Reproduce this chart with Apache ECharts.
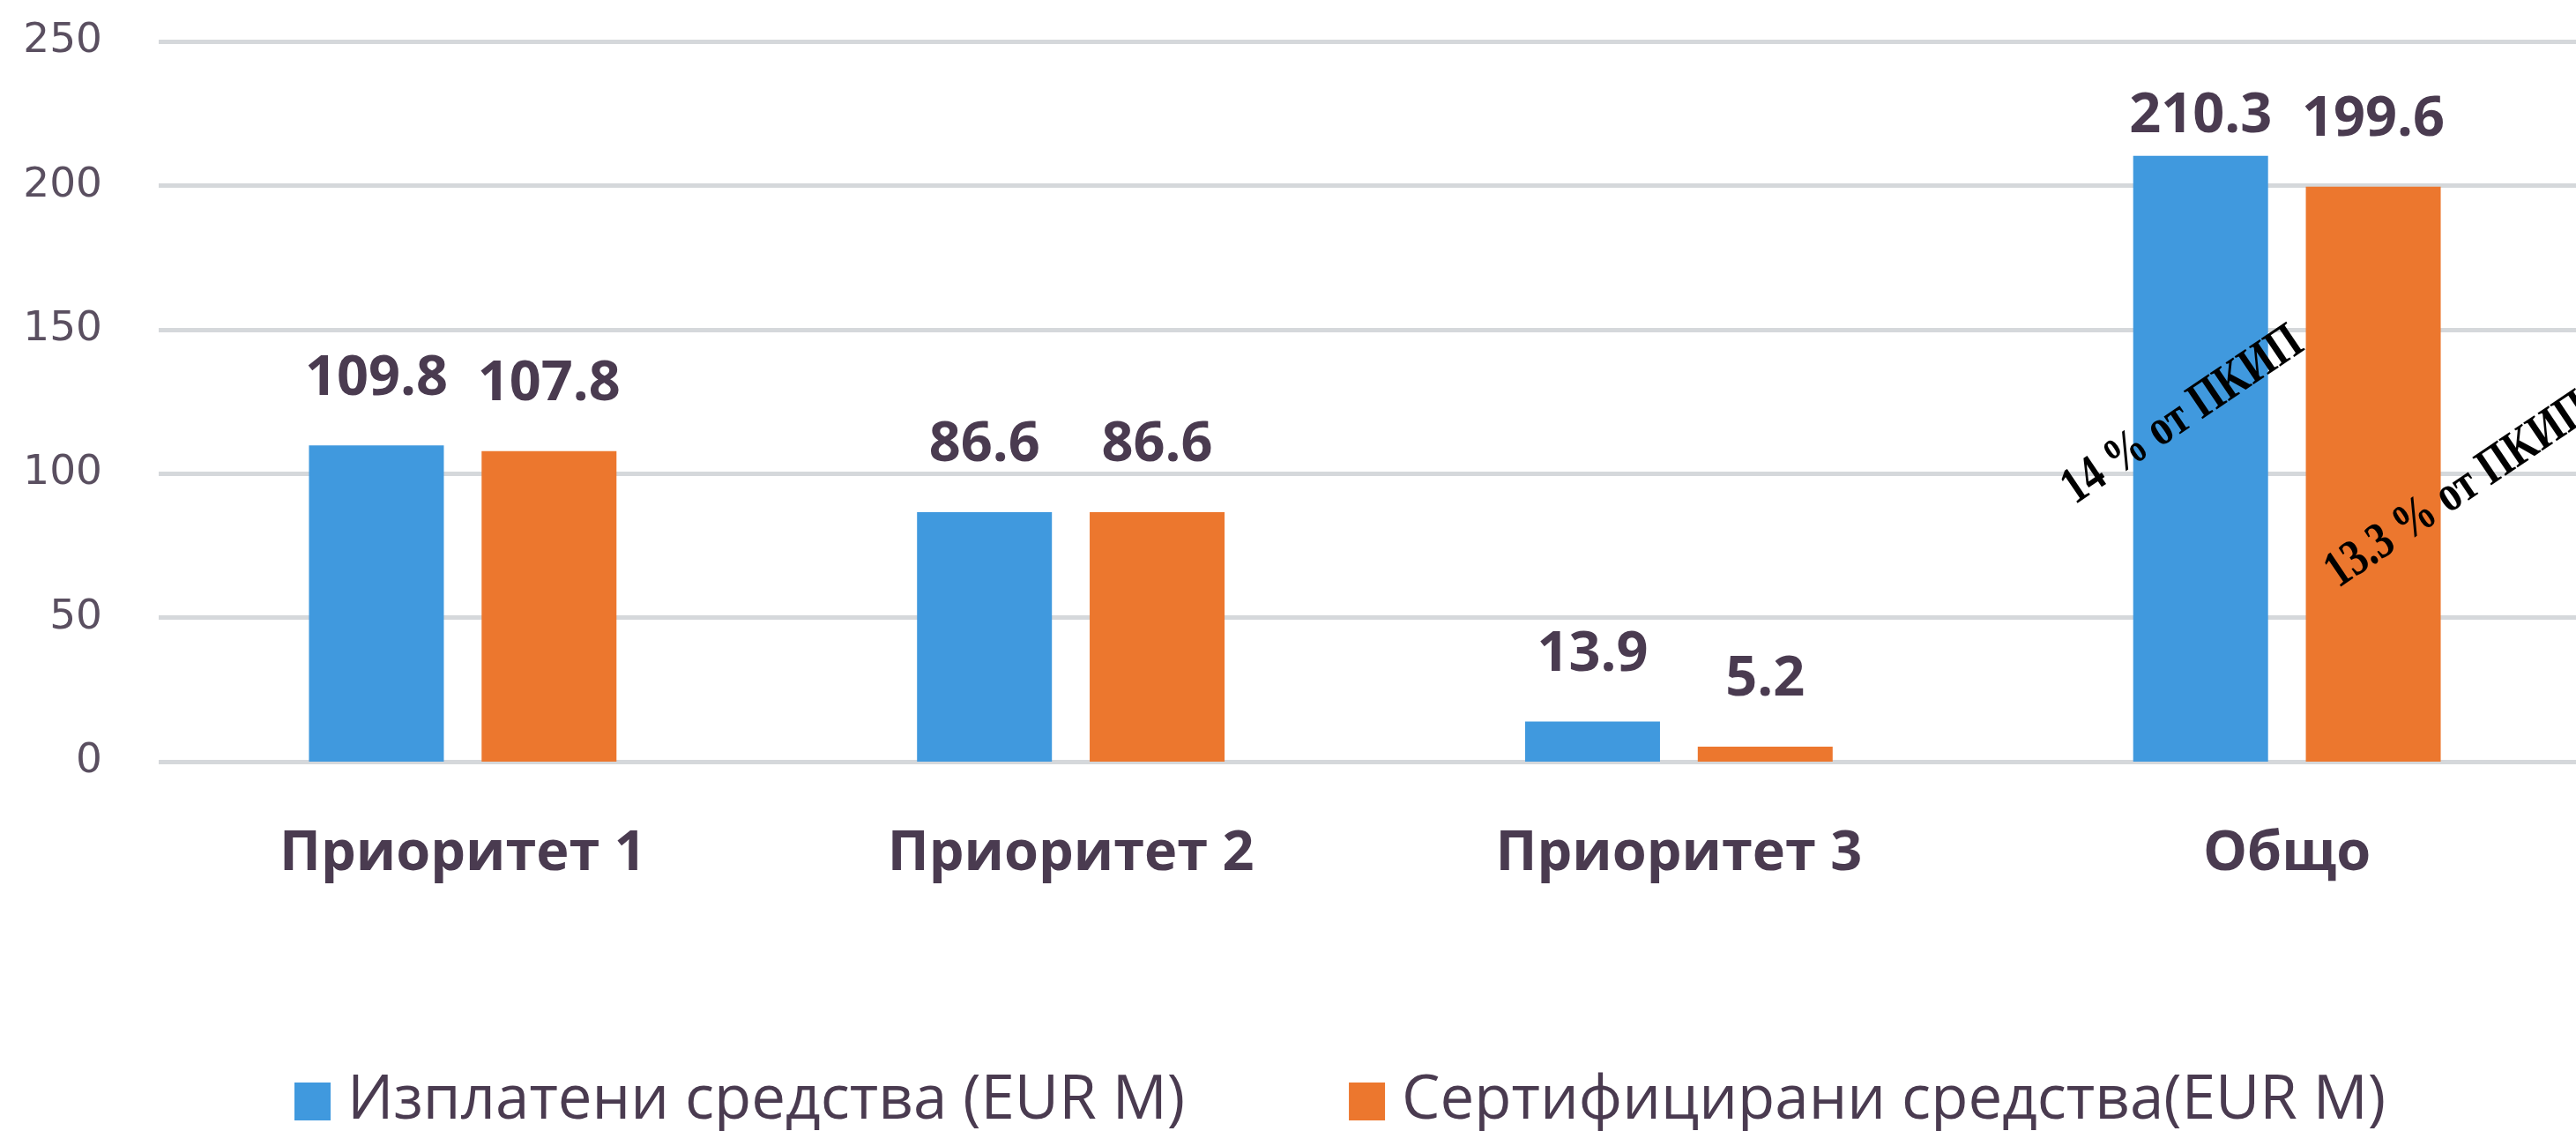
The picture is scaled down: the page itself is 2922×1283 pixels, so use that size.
<!DOCTYPE html>
<html>
<head>
<meta charset="utf-8">
<script src="https://cdn.jsdelivr.net/npm/echarts@6/dist/echarts.min.js"></script>
<style>
html,body{margin:0;padding:0;background:#fff;overflow:hidden;}
#chart{width:2940px;height:1283px;}
</style>
</head>
<body>
<div id="chart"></div>
<script>
// ---- data ----
var categories = ['Приоритет 1', 'Приоритет 2', 'Приоритет 3', 'Общо'];
var seriesNames = ['Изплатени средства (EUR M)', 'Сертифицирани средства(EUR M)'];
var paidValues = [109.8, 86.6, 13.9, 210.3];
var certifiedValues = [107.8, 86.6, 5.2, 199.6];
var yTicks = [0, 50, 100, 150, 200, 250];
var annotationTexts = ['14 % от ПКИП', '13.3 % от ПКИП'];

// ---- styles ----
var BLUE = '#4099de';
var ORANGE = '#ec772e';
var TEXT = '#4a3b50';

function makeData(vals, tallOverride) {
  return vals.map(function (v, i) {
    var item = { value: v };
    if (i === tallOverride) item.label = { distance: 13 };
    return item;
  });
}

var chart = echarts.init(document.getElementById('chart'), null, { renderer: 'canvas' });
var option = {
  backgroundColor: '#ffffff',
  animation: false,
  grid: { left: 180, top: 47, width: 2759, height: 817, containLabel: false },
  legend: {
    data: seriesNames,
    left: 329,
    top: 1210,
    itemWidth: 41,
    itemHeight: 43,
    itemGap: 186,
    icon: 'rect',
    textStyle: { fontFamily: 'Open Sans', fontSize: 69, color: TEXT, padding: [0, 0, 0, 14] }
  },
  xAxis: {
    type: 'category',
    data: categories,
    axisLine: { show: false },
    axisTick: { show: false },
    axisLabel: { margin: 74, fontFamily: 'Open Sans', fontWeight: 'bold', fontSize: 63, color: TEXT }
  },
  yAxis: {
    type: 'value',
    min: yTicks[0],
    max: yTicks[yTicks.length - 1],
    interval: yTicks[1] - yTicks[0],
    axisLine: { show: false },
    axisTick: { show: false },
    splitLine: { lineStyle: { color: '#d5d8db', width: 5 } },
    axisLabel: { margin: 64, fontFamily: 'DejaVu Sans', fontSize: 47, color: '#5a4f60' }
  },
  series: [
    {
      name: seriesNames[0], type: 'bar', barWidth: 153, barGap: '28%',
      itemStyle: { color: BLUE },
      label: { show: true, position: 'top', distance: 44, fontFamily: 'Open Sans', fontWeight: 'bold', fontSize: 63, color: TEXT },
      data: makeData(paidValues, 3)
    },
    {
      name: seriesNames[1], type: 'bar', barWidth: 153, barGap: '28%',
      itemStyle: { color: ORANGE },
      label: { show: true, position: 'top', distance: 44, fontFamily: 'Open Sans', fontWeight: 'bold', fontSize: 63, color: TEXT },
      data: makeData(certifiedValues, -1)
    }
  ]
};
chart.setOption(option);

// rotated annotations anchored to the "Общо" category
var anchorA = chart.convertToPixel({ gridIndex: 0 }, [categories[3], 120]);
var anchorB = chart.convertToPixel({ gridIndex: 0 }, [categories[3], 94]);
var rot = 34 * Math.PI / 180;
chart.setOption({
  graphic: [
    { type: 'text', x: anchorA[0] - 118, y: anchorA[1], rotation: rot, scaleX: 0.97, scaleY: 1.22, z: 100,
      style: { text: annotationTexts[0], font: 'bold 48px "Liberation Serif"', fill: '#000', textAlign: 'center', textVerticalAlign: 'middle' } },
    { type: 'text', x: anchorB[0] + 195, y: anchorB[1], rotation: rot, scaleX: 0.97, scaleY: 1.22, z: 100,
      style: { text: annotationTexts[1], font: 'bold 48px "Liberation Serif"', fill: '#000', textAlign: 'center', textVerticalAlign: 'middle' } }
  ]
});
</script>
</body>
</html>
